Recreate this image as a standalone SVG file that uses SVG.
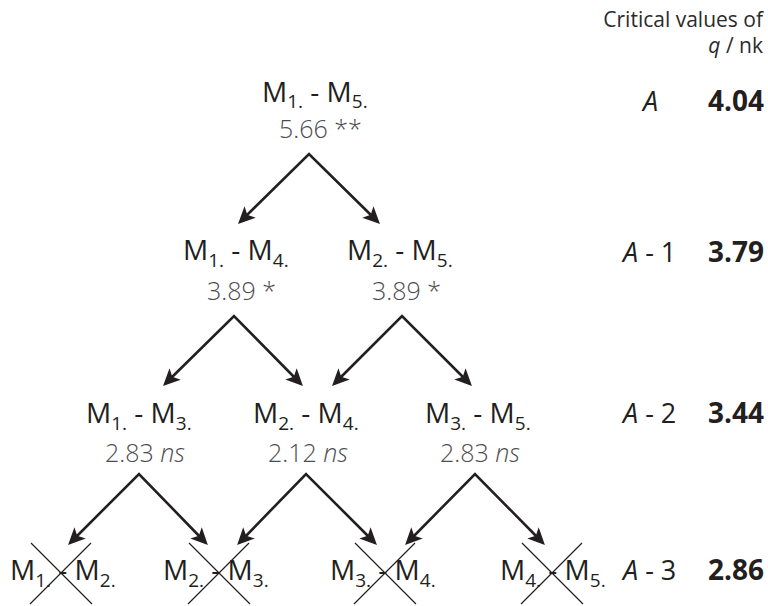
<svg xmlns="http://www.w3.org/2000/svg" width="768" height="606" viewBox="0 0 768 606">
  <style>
    text { font-family: "Open Sans", "Noto Sans", "DejaVu Sans", sans-serif; fill: #231f20; }
    .lbl { font-size: 28px; }
    .sub { font-size: 19px; }
    .val { font-size: 25px; font-weight: 300; fill: #4d4d4f; }
    .it { font-style: italic; }
    .hdr { font-size: 21px; fill: #2b2b2b; }
    .lvl { font-size: 27px; }
    .crit { font-size: 28px; font-weight: 700; }
    .arr { fill: none; stroke: #231f20; stroke-width: 2.6; stroke-linejoin: miter; marker-start: url(#head); marker-end: url(#head); }
    .x { stroke: #231f20; stroke-width: 1.2; fill: none; }
  </style>
  <defs>
    <marker id="head" viewBox="-1 -10 20 20" markerUnits="userSpaceOnUse" markerWidth="20" markerHeight="20" refX="10" refY="0" orient="auto-start-reverse">
      <path d="M0,-8 L17,0 L0,8 L4,0 Z" fill="#231f20"/>
    </marker>
  </defs>

  <!-- header of the critical-value column -->
  <g id="header">
    <text class="hdr" x="763" y="27" text-anchor="end">Critical values of</text>
    <text class="hdr" x="763" y="53" text-anchor="end"><tspan class="it">q</tspan> / nk</text>
  </g>

  <!-- critical values per step -->
  <g id="crit-A">
    <text class="lvl it" x="643" y="111">A</text>
    <text class="crit" x="764" y="111" text-anchor="end">4.04</text>
  </g>
  <g id="crit-A1">
    <text class="lvl" x="623" y="262"><tspan class="it">A</tspan> - 1</text>
    <text class="crit" x="764" y="262" text-anchor="end">3.79</text>
  </g>
  <g id="crit-A2">
    <text class="lvl" x="623" y="423"><tspan class="it">A</tspan> - 2</text>
    <text class="crit" x="764" y="423" text-anchor="end">3.44</text>
  </g>
  <g id="crit-A3">
    <text class="lvl" x="623" y="580"><tspan class="it">A</tspan> - 3</text>
    <text class="crit" x="764" y="580" text-anchor="end">2.86</text>
  </g>

  <!-- level 1 -->
  <g id="m1-m5">
    <text class="lbl" x="262" y="102">M<tspan class="sub" dy="6">1.</tspan><tspan dy="-6"> - M</tspan><tspan class="sub" dy="6">5.</tspan></text>
    <text class="val" x="279" y="138">5.66 **</text>
  </g>

  <!-- level 2 -->
  <g id="m1-m4">
    <text class="lbl" x="183" y="260">M<tspan class="sub" dy="7">1.</tspan><tspan dy="-7"> - M</tspan><tspan class="sub" dy="7">4.</tspan></text>
    <text class="val" x="207" y="300">3.89 *</text>
  </g>
  <g id="m2-m5">
    <text class="lbl" x="347" y="260">M<tspan class="sub" dy="7">2.</tspan><tspan dy="-7"> - M</tspan><tspan class="sub" dy="7">5.</tspan></text>
    <text class="val" x="372" y="300">3.89 *</text>
  </g>

  <!-- level 3 -->
  <g id="m1-m3">
    <text class="lbl" x="86" y="423">M<tspan class="sub" dy="7">1.</tspan><tspan dy="-7"> - M</tspan><tspan class="sub" dy="7">3.</tspan></text>
    <text class="val" x="105" y="462">2.83 <tspan class="it">ns</tspan></text>
  </g>
  <g id="m2-m4">
    <text class="lbl" x="253" y="423">M<tspan class="sub" dy="7">2.</tspan><tspan dy="-7"> - M</tspan><tspan class="sub" dy="7">4.</tspan></text>
    <text class="val" x="268" y="462">2.12 <tspan class="it">ns</tspan></text>
  </g>
  <g id="m3-m5">
    <text class="lbl" x="425" y="423">M<tspan class="sub" dy="7">3.</tspan><tspan dy="-7"> - M</tspan><tspan class="sub" dy="7">5.</tspan></text>
    <text class="val" x="440" y="462">2.83 <tspan class="it">ns</tspan></text>
  </g>

  <!-- level 4: comparisons not tested (crossed out) -->
  <g id="m1-m2">
    <text class="lbl" x="10" y="580">M<tspan class="sub" dy="7">1.</tspan><tspan dy="-7"> - M</tspan><tspan class="sub" dy="7">2.</tspan></text>
    <path class="x" d="M31,543 L92,604 M91,543 L30,604"/>
  </g>
  <g id="m2-m3">
    <text class="lbl" x="163" y="580">M<tspan class="sub" dy="7">2.</tspan><tspan dy="-7"> - M</tspan><tspan class="sub" dy="7">3.</tspan></text>
    <path class="x" d="M189,543 L250,604 M249,543 L188,604"/>
  </g>
  <g id="m3-m4">
    <text class="lbl" x="330" y="580">M<tspan class="sub" dy="7">3.</tspan><tspan dy="-7"> - M</tspan><tspan class="sub" dy="7">4.</tspan></text>
    <path class="x" d="M355,543 L416,604 M415,543 L354,604"/>
  </g>
  <g id="m4-m5">
    <text class="lbl" x="500" y="580">M<tspan class="sub" dy="7">4.</tspan><tspan dy="-7"> - M</tspan><tspan class="sub" dy="7">5.</tspan></text>
    <path class="x" d="M522,543 L583,604 M582,543 L521,604"/>
  </g>

  <!-- connectors -->
  <g id="connectors">
    <path class="arr" d="M243,219 L309,154 L375,219"/>
    <path class="arr" d="M168,381 L234,316 L298,381"/>
    <path class="arr" d="M337,381 L402,316 L467,381"/>
    <path class="arr" d="M73,540 L139,474 L203,540"/>
    <path class="arr" d="M242,540 L306,474 L372,540"/>
    <path class="arr" d="M410,540 L475,474 L540,540"/>
  </g>
</svg>
